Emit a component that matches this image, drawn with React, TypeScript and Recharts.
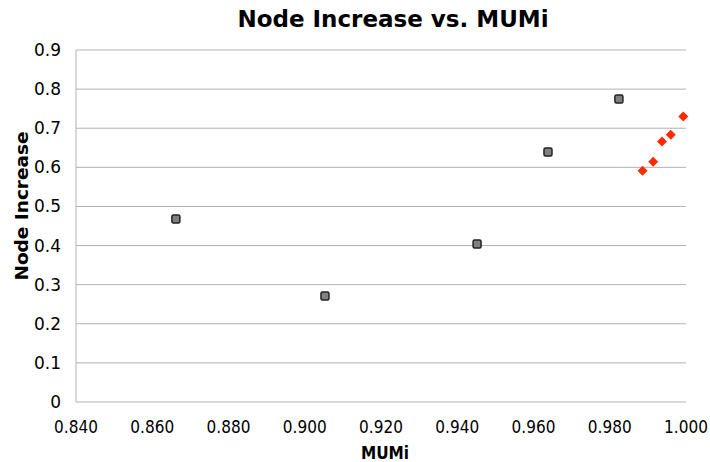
import { ScatterChart, Scatter, XAxis, YAxis, CartesianGrid, Label } from 'recharts';

const groupA_x = [0.8662, 0.9053, 0.9452, 0.9638, 0.9824];
const groupA_y = [0.468, 0.271, 0.404, 0.639, 0.775];
const groupB_x = [0.9886, 0.9914, 0.9937, 0.996, 0.9993];
const groupB_y = [0.591, 0.614, 0.666, 0.683, 0.73];
const xTicks = [0.84, 0.86, 0.88, 0.9, 0.92, 0.94, 0.96, 0.98, 1.0];
const yTicks = [0, 0.1, 0.2, 0.3, 0.4, 0.5, 0.6, 0.7, 0.8, 0.9];

const seriesA = groupA_x.map((x, i) => ({ x, y: groupA_y[i] }));
const seriesB = groupB_x.map((x, i) => ({ x, y: groupB_y[i] }));

const font = 'DejaVu Sans, sans-serif';
const condensed = 'DejaVu Sans Condensed, DejaVu Sans, sans-serif';

const SquareDot = (props: any) => {
  const { cx, cy } = props;
  return (
    <rect x={cx - 4} y={cy - 4} width={8} height={8} rx={1.5} fill="#808080" stroke="#222" strokeWidth={1.5} />
  );
};

const DiamondDot = (props: any) => {
  const { cx, cy } = props;
  return <path d={`M${cx},${cy - 5}L${cx + 5},${cy}L${cx},${cy + 5}L${cx - 5},${cy}Z`} fill="#ff2a00" />;
};

export default function App() {
  return (
    <div style={{ position: 'absolute', left: 0, top: 0, width: 710, height: 462 }}>
      <div
        style={{
          position: 'absolute',
          left: 0,
          top: 5,
          width: 786,
          textAlign: 'center',
          fontFamily: font,
          fontWeight: 'bold',
          fontSize: 23,
          lineHeight: '28px',
          color: '#000',
        }}
      >
        Node Increase vs. MUMi
      </div>
      <ScatterChart width={710} height={462} margin={{ top: 50, right: 24, bottom: 0, left: 0 }}>
        <CartesianGrid horizontal vertical={false} stroke="#b3b3b3" />
        <XAxis
          type="number"
          dataKey="x"
          domain={[0.84, 1.0]}
          ticks={xTicks}
          tickFormatter={(v: number) => v.toFixed(3)}
          axisLine={false}
          tickLine={false}
          tickSize={0}
          tickMargin={19}
          height={60}
          tick={{ fill: '#000', fontSize: 17, fontFamily: condensed }}
        >
          <Label
            content={() => (
              <text x={385} y={453} textAnchor="middle" dominantBaseline="central" fontFamily={condensed} fontWeight="bold" fontSize={17} fill="#000">
                MUMi
              </text>
            )}
          />
        </XAxis>
        <YAxis
          type="number"
          dataKey="y"
          domain={[0, 0.9]}
          ticks={yTicks}
          axisLine={{ stroke: '#b3b3b3' }}
          tickLine={false}
          tickSize={0}
          tickMargin={15}
          width={76}
          tick={{ fill: '#000', fontSize: 17, fontFamily: font }}
        >
          <Label
            content={() => (
              <text
                x={21}
                y={206}
                transform="rotate(-90, 21, 206)"
                textAnchor="middle"
                dominantBaseline="central"
                fontFamily={font}
                fontWeight="bold"
                fontSize={18.5}
                fill="#000"
              >
                Node Increase
              </text>
            )}
          />
        </YAxis>
        <Scatter data={seriesA} shape={SquareDot} isAnimationActive={false} />
        <Scatter data={seriesB} shape={DiamondDot} isAnimationActive={false} />
      </ScatterChart>
    </div>
  );
}
